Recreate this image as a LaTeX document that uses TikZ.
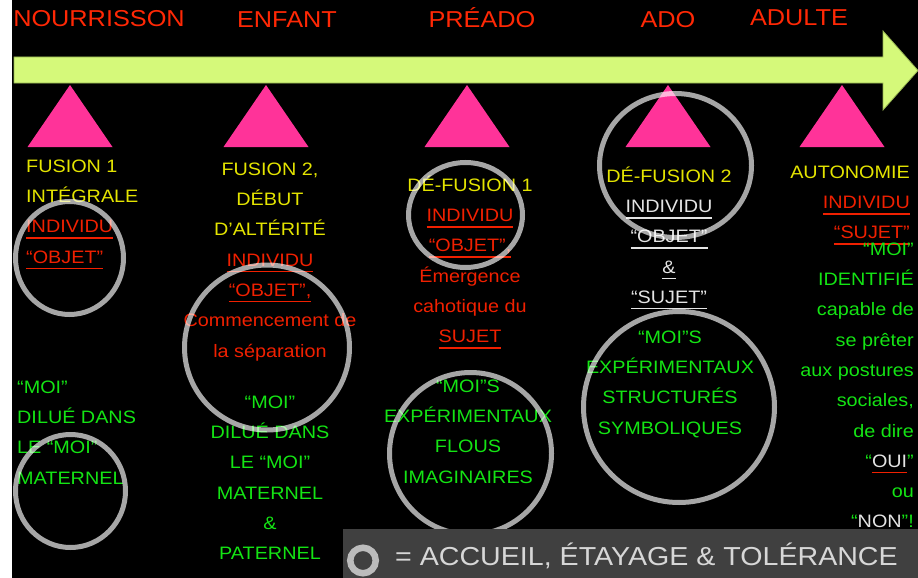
\documentclass[tikz,border=0pt]{standalone}
\usepackage{fontspec}
\setmainfont{Liberation Sans}[FakeStretch=1.1]
\definecolor{tred}{RGB}{255,40,5}
\definecolor{cred}{RGB}{240,32,0}
\definecolor{yel}{RGB}{228,228,0}
\definecolor{grn}{RGB}{20,228,20}
\definecolor{wht}{RGB}{228,228,228}
\definecolor{agreen}{RGB}{213,249,122}
\definecolor{aedge}{RGB}{150,180,80}
\definecolor{tpink}{RGB}{255,51,153}
\definecolor{boxgray}{RGB}{64,64,64}
\definecolor{legtxt}{RGB}{215,215,215}
\newsavebox\ulbox
\newcommand\ulc[2]{\sbox\ulbox{#2}\rlap{\color{#1}\rule[-6pt]{\wd\ulbox}{1.6pt}}\usebox\ulbox}
\newcommand\rl[1]{\textcolor{cred}{\ulc{cred}{#1}}}
\newcommand\wl[1]{\textcolor{wht}{\ulc{wht}{#1}}}
\tikzset{
  title/.style={inner sep=0pt, anchor=base, text=tred, font=\fontsize{23}{27}\selectfont},
  coltext/.style={inner sep=0pt, font=\fontsize{18}{30.3}\selectfont},
  colC/.style={coltext, anchor=north, align=center},
  colL/.style={coltext, anchor=north west, align=left},
  colR/.style={coltext, anchor=north east, align=right},
  ring/.style={draw=white, draw opacity=0.65, line width=5pt},
  tri/.style={fill=tpink},
}
\begin{document}
\begin{tikzpicture}[x=1pt,y=-1pt]
\useasboundingbox (0,0) rectangle (918,578);
\fill[white] (0,0) rectangle (12,578);
\fill[black] (12,0) rectangle (918,578);
% titles
\node[title] (t1) at (99,27) {NOURRISSON};
\node[title] (t2) at (287,28) {ENFANT};
\node[title] (t3) at (482,28) {PRÉADO};
\node[title] (t4) at (668,28) {ADO};
\node[title] (t5) at (799,26) {ADULTE};
% arrow
\filldraw[fill=agreen, draw=aedge, line width=0.8pt]
  (14,57) -- (883,57) -- (883,31) -- (918,70.5) -- (883,110) -- (883,83) -- (14,83) -- cycle;
% triangles
\foreach \ax in {70,266,467,668,842}
  \fill[tri] (\ax-42.5,147) -- (\ax,85) -- (\ax+42.5,147) -- cycle;
% column 1
\node[colL, text=yel] (c1a) at (26,150.8)
  {\strut FUSION 1\\INTÉGRALE\\\rl{INDIVIDU}\\\rl{“OBJET”}};
\node[colL, text=grn] (c1b) at (17,371.8)
  {\strut “MOI”\\DILUÉ DANS\\LE “MOI”\\MATERNEL};
% column 2
\node[colC, text=yel] (c2a) at (270,153.8)
  {\strut FUSION 2,\\DÉBUT\\D’ALTÉRITÉ\\\rl{INDIVIDU}\\\rl{“OBJET”,}\\\textcolor{cred}{Commencement de}\\\textcolor{cred}{la séparation}};
\node[colC, text=grn] (c2b) at (270,386.8)
  {\strut “MOI”\\DILUÉ DANS\\LE “MOI”\\MATERNEL\\\&\\PATERNEL};
% column 3
\node[colC, text=yel] (c3a) at (470,169.8)
  {\strut DÉ-FUSION 1\\\rl{INDIVIDU}\\\rl{“OBJET”,}\\\textcolor{cred}{Émergence}\\\textcolor{cred}{cahotique du}\\\rl{SUJET}};
\node[colC, text=grn] (c3b) at (468,370.8)
  {\strut “MOI”S\\EXPÉRIMENTAUX\\FLOUS\\IMAGINAIRES};
% column 4
\node[colC, text=yel] (c4a) at (669,160.8)
  {\strut DÉ-FUSION 2\\\wl{INDIVIDU}\\\wl{“OBJET”}\\\wl{\&}\\\wl{“SUJET”}};
\node[colC, text=grn] (c4b) at (670,321.8)
  {\strut “MOI”S\\EXPÉRIMENTAUX\\STRUCTURÉS\\SYMBOLIQUES};
% column 5
\node[colR, text=yel] (c5a) at (910,156.8)
  {\strut AUTONOMIE\\\rl{INDIVIDU}\\\rl{“SUJET”}};
\node[colR, text=grn] (c5b) at (914,233.8)
  {\strut “MOI”\\IDENTIFIÉ\\capable de\\se prêter\\aux postures\\sociales,\\de dire\\“\ulc{cred}{\textcolor{wht}{OUI}}”\\ou\\“\ulc{cred}{\textcolor{wht}{NON}}”!};
% circles
\draw[ring] (69.5,258) ellipse [x radius=54pt, y radius=56.5pt];
\draw[ring] (70.5,491) ellipse [x radius=55pt, y radius=56.5pt];
\draw[ring] (267,347.5) circle [radius=82.5pt];
\draw[ring] (465.5,215) ellipse [x radius=57pt, y radius=52.5pt];
\draw[ring] (470.5,453.5) circle [radius=81pt];
\draw[ring] (675.5,165.5) ellipse [x radius=76pt, y radius=72pt];
\draw[ring] (679,407) circle [radius=95.5pt];
% legend
\fill[boxgray] (343,529) rectangle (918,578);
\draw[ring, line width=6.5pt] (363,560.5) circle [radius=12.75pt];
\node[inner sep=0pt, anchor=base west, text=legtxt, font=\fontsize{26}{30}\selectfont] (leg) at (395,565)
  {= ACCUEIL, ÉTAYAGE \& TOLÉRANCE};
\end{tikzpicture}
\end{document}
